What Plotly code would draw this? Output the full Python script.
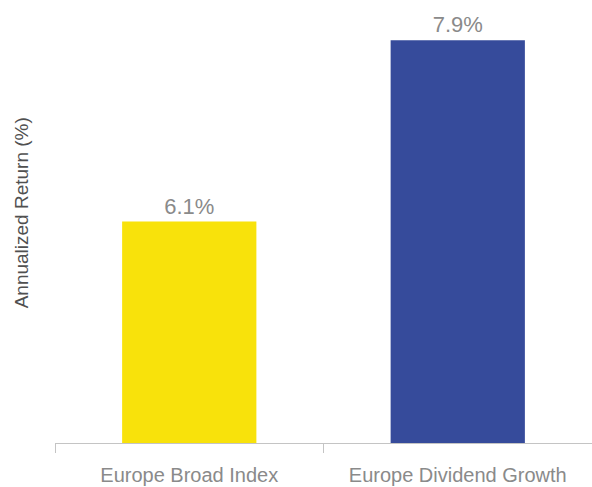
import plotly.graph_objects as go

categories = ["Europe Broad Index", "Europe Dividend Growth"]
returns = [6.1, 7.9]
labels = ["6.1%", "7.9%"]
colors = ["#F8E20B", "#364B9B"]
y_title = "Annualized Return (%)"

fig = go.Figure(go.Bar(
    x=categories, y=returns, width=0.5,
    marker=dict(color=colors, line=dict(width=0)),
    text=labels, textposition="outside", cliponaxis=False,
    textfont=dict(family="Liberation Sans, Arial", size=22, color="#8a8a8a"),
))

fig.add_annotation(
    text=y_title, textangle=-90, xref="paper", yref="paper",
    x=-0.062, y=0.52, xanchor="center", yanchor="middle", showarrow=False,
    font=dict(family="Liberation Sans, Arial", size=19, color="#505050"),
)

fig.update_layout(
    width=592, height=487,
    margin=dict(l=55, r=0, t=0, b=44),
    paper_bgcolor="white", plot_bgcolor="white",
    showlegend=False,
    xaxis=dict(
        showline=True, linecolor="#c4c4c4", linewidth=1,
        ticks="outside", ticklen=9, tickcolor="#c4c4c4", tickwidth=1,
        tickson="boundaries", range=[-0.5, 1.5],
        ticklabelstandoff=14,
        tickfont=dict(family="Liberation Sans, Arial", size=20, color="#8a8a8a"),
        automargin=False, showgrid=False, zeroline=False,
    ),
    yaxis=dict(
        range=[3.9, 8.3], showgrid=False, zeroline=False, showline=False,
        showticklabels=False, ticks="", automargin=False,
    ),
)

fig.write_html("out.html")
